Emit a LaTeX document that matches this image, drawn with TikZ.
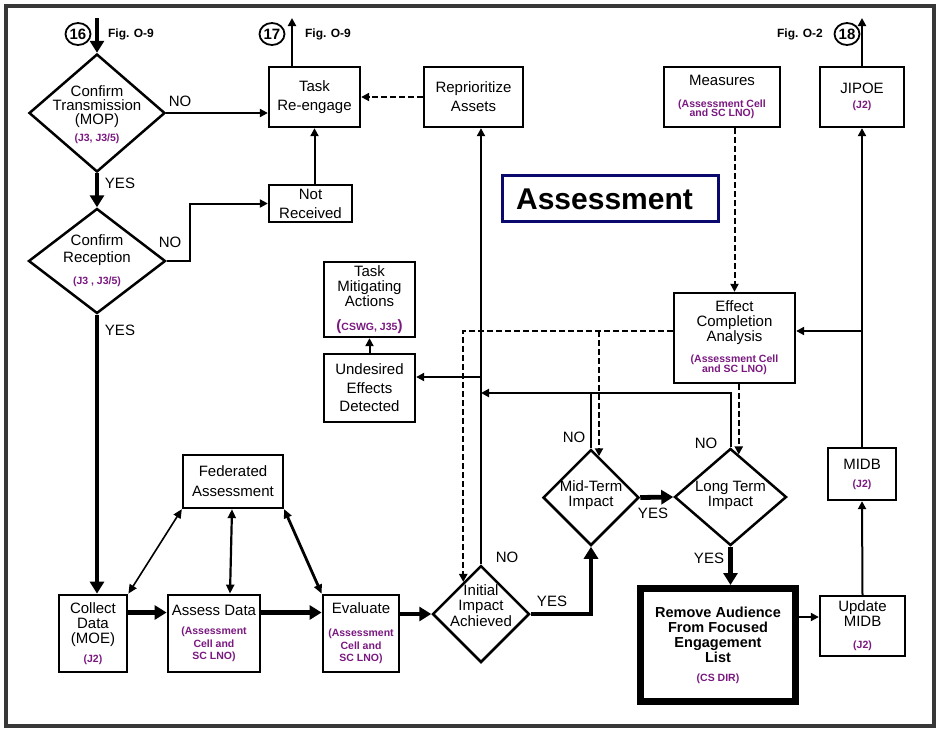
\documentclass[tikz,border=0pt]{standalone}
\usepackage{fontspec}
\setmainfont{Liberation Sans}
\usetikzlibrary{arrows.meta,shapes.geometric,calc}
\definecolor{purp}{RGB}{122,24,128}
\definecolor{navyb}{RGB}{10,10,110}
\definecolor{framec}{RGB}{55,55,55}
\newcommand{\pu}[1]{{\color{purp}\bfseries\fontsize{10.5}{11}\selectfont #1}}
\newcommand{\bp}[1]{{\color{purp}\bfseries\fontsize{15}{15}\selectfont #1}}
\newcommand{\mfont}[1]{\fontsize{15}{#1}\selectfont}
\begin{document}
\begin{tikzpicture}[x=1pt,y=-1pt,
  bx/.style={draw, rectangle, line width=2.3pt, inner sep=0pt, align=center, font=\mfont{15}},
  dm/.style={draw, diamond, line width=2.5pt, inner sep=0pt},
  tx/.style={align=center, inner sep=0pt, font=\mfont{15}},
  lbl/.style={inner sep=0pt, font=\mfont{15}},
  figl/.style={inner sep=0pt, font=\bfseries\fontsize{12}{12}\selectfont},
  circ/.style={draw, ellipse, line width=1.8pt, inner sep=0pt, minimum width=25pt, minimum height=22pt, font=\bfseries\fontsize{15}{15}\selectfont},
  thin/.style={line width=2pt, -{Triangle[length=8pt,width=8pt]}},
  thk/.style={line width=4.8pt, -{Triangle[length=12pt,width=14pt]}},
  dsh/.style={line width=2pt, dash pattern=on 5.5pt off 3.5pt, -{Triangle[length=8pt,width=8pt]}},
  dbl/.style={line width=1.6pt, {Triangle[length=9pt,width=8pt]}-{Triangle[length=9pt,width=8pt]}}
]
\useasboundingbox (0,0) rectangle (938,729);
\draw[line width=3.5pt, framec] (6,6) rectangle (934,726);

% ---- diamonds
\node[dm, minimum width=136pt, minimum height=118pt] (ct) at (97,113) {};
\node[tx, font=\mfont{14}] (ctt) at (97,114.5) {Confirm\\Transmission\\(MOP)\\[3pt]\pu{(J3, J3/5)}};
\node[dm, minimum width=137pt, minimum height=105pt] (cr) at (97,261) {};
\node[tx, font=\mfont{17}] (crt) at (97,261) {Confirm\\Reception\\[5pt]\pu{(J3 , J3/5)}};
\node[dm, minimum width=97pt, minimum height=97pt] (ia) at (481,614) {};
\node[tx, font=\mfont{15.5}] (iat) at (481,605.5) {Initial\\Impact\\Achieved};
\node[dm, minimum width=96pt, minimum height=96pt] (mt) at (591,497.5) {};
\node[tx] (mtt) at (591,495.5) {Mid-Term\\Impact};
\node[dm, minimum width=112pt, minimum height=97pt] (lt) at (730.5,497) {};
\node[tx] (ltt) at (730.5,495.5) {Long Term\\Impact};

% ---- boxes
\node[bx, minimum width=91pt, minimum height=60pt, font=\mfont{19}] (tr) at (314.5,97) {Task\\Re-engage};
\node[bx, minimum width=99pt, minimum height=60pt, font=\mfont{19}] (rp) at (473.5,97) {Reprioritize\\Assets};
\node[bx, minimum width=83pt, minimum height=37pt, font=\mfont{19}] (nr) at (310.5,203.5) {Not\\Received};
\node[bx, minimum width=116pt, minimum height=60pt] (ms) at (722,97) {Measures\\[7pt]\pu{(Assessment Cell}\\[-6pt]\pu{and SC LNO)}};
\node[bx, minimum width=84pt, minimum height=60pt] (jp) at (862,97) {JIPOE\\[0pt]\pu{(J2)}};
\node[draw=navyb, line width=3.2pt, rectangle, inner sep=0pt, minimum width=216pt, minimum height=46pt] (as) at (610.5,198.5) {};
\node[inner sep=0pt, font=\bfseries\fontsize{30}{30}\selectfont] (ast) at (604.5,199) {Assessment};
\node[bx, minimum width=121pt, minimum height=90pt] (ec) at (734.5,338) {Effect\\Completion\\Analysis\\[6pt]\pu{(Assessment Cell}\\[-5pt]\pu{and SC LNO)}};
\node[bx, minimum width=91pt, minimum height=75pt] (tm) at (369.5,299.5) {Task\\Mitigating\\Actions\\[9pt]\bp{(}\pu{CSWG, J35}\bp{)}};
\node[bx, minimum width=91pt, minimum height=68pt, font=\mfont{18.5}] (ud) at (369.5,388) {Undesired\\Effects\\Detected};
\node[bx, minimum width=100pt, minimum height=53pt, font=\mfont{20}] (fa) at (233,481.5) {Federated\\Assessment};
\node[bx, line width=2.8pt, minimum width=68pt, minimum height=77pt] (cd) at (93,633.5) {Collect\\Data\\(MOE)\\[4pt]\pu{(J2)}};
\node[bx, line width=2.8pt, minimum width=92pt, minimum height=77pt, font=\mfont{12.5}] (ad) at (214,633.5) {Assess Data\\[6.5pt]\pu{(Assessment}\\\pu{Cell and}\\\pu{SC LNO)}};
\node[bx, line width=2.8pt, minimum width=76pt, minimum height=77pt, font=\mfont{12.5}] (ev) at (361,633.5) {Evaluate\\[10.5pt]\pu{(Assessment}\\\pu{Cell and}\\\pu{SC LNO)}};
\node[bx, minimum width=68pt, minimum height=52pt] (mb) at (862,474) {MIDB\\[3pt]\pu{(J2)}};
\node[bx, minimum width=85pt, minimum height=60pt] (um) at (862.5,626) {Update\\MIDB\\[7pt]\pu{(J2)}};
\node[bx, line width=7pt, minimum width=155pt, minimum height=113pt, font=\bfseries\fontsize{14.5}{15}\selectfont] (ra) at (718,645) {Remove Audience\\From Focused\\Engagement\\List\\[4pt]\pu{(CS DIR)}};

% ---- off-page connectors
\node[circ] (c16) at (78,34) {16};
\node[figl] (f16) at (131,34) {Fig. O-9};
\node[circ] (c17) at (272,34) {17};
\node[figl] (f17) at (328,34) {Fig. O-9};
\node[circ] (c18) at (847,34) {18};
\node[figl] (f18) at (800,34) {Fig. O-2};
\coordinate (i16) at (97,18);
\coordinate (o17) at (292,18);
\coordinate (o18) at (862,18);
\coordinate (j1) at (862,331);
\coordinate (j2) at (481,377);
\coordinate (j3) at (481,393);

% ---- labels
\node[lbl] (l1) at (180,101) {NO};
\node[lbl] (l2) at (120,183) {YES};
\node[lbl] (l3) at (170,242) {NO};
\node[lbl] (l4) at (120,330) {YES};
\node[lbl] (l5) at (507,557) {NO};
\node[lbl] (l6) at (552,601) {YES};
\node[lbl] (l7) at (574,437) {NO};
\node[lbl] (l8) at (653,513) {YES};
\node[lbl] (l9) at (706,443) {NO};
\node[lbl] (l10) at (709,558) {YES};

% ---- connectors
\draw[thk] (i16) -- (ct.north);
\draw[thk] (ct.south) -- (cr.north);
\draw[thin] (ct.east) -- (ct.east -| tr.west);
\draw[thin] (cr.east) -- ++(23,0) |- (nr.west);
\draw[thk] (cr.south) -- (cr.south |- cd.north);
\draw[thin] (nr.north -| tr.south) -- (tr.south);
\draw[thin] (o17 |- tr.north) -- (o17);
\draw[dsh] (rp.west) -- (tr.east);
\draw[thin] (ia.north) -- (ia.north |- rp.south);
\draw[thin] (j2) -- (j2 -| ud.east);
\draw[thin] (ud.north) -- (tm.south);
\draw[thin] (lt.north) |- (j3);
\draw[line width=2pt] (mt.north) -- (mt.north |- j3);
\draw[dsh] (ec.north |- ms.south) -- (ec.north);
\coordinate (d0) at ([yshift=7pt]ec.west);
\draw[dsh] (d0) -| (ia.119);
\draw[dsh] (d0 -| mt.79) -- (mt.79);
\draw[dsh] (lt.79 |- ec.south) -- (lt.79);
\draw[thin] (um.north) -- (mb.south);
\draw[thin] (mb.north) -- (jp.south);
\draw[thin] (j1) -- (j1 -| ec.east);
\draw[thin] (jp.north) -- (o18);
\draw[thin] ([yshift=28pt]ra.east) -- ([yshift=28pt]ra.east -| um.west);
\draw[thk] (lt.south) -- (lt.south |- ra.north);
\draw[thk] (mt.east) -- (lt.west);
\draw[thk] (ia.east) -| (mt.south);
\draw[thk] (ia.west -| ev.east) -- (ia.west);
\draw[thk] ([yshift=21pt]cd.east) -- ([yshift=21pt]cd.east -| ad.west);
\draw[thk] ([yshift=21pt]ad.east) -- ([yshift=21pt]ad.east -| ev.west);
\draw[dbl] (fa.south west) -- (cd.north east);
\draw[dbl, line width=2.2pt] ([xshift=-1pt]fa.south) -- ([xshift=16pt]ad.north);
\draw[dbl, line width=2.8pt] (fa.south east) -- (ev.north west);
\end{tikzpicture}
\end{document}
